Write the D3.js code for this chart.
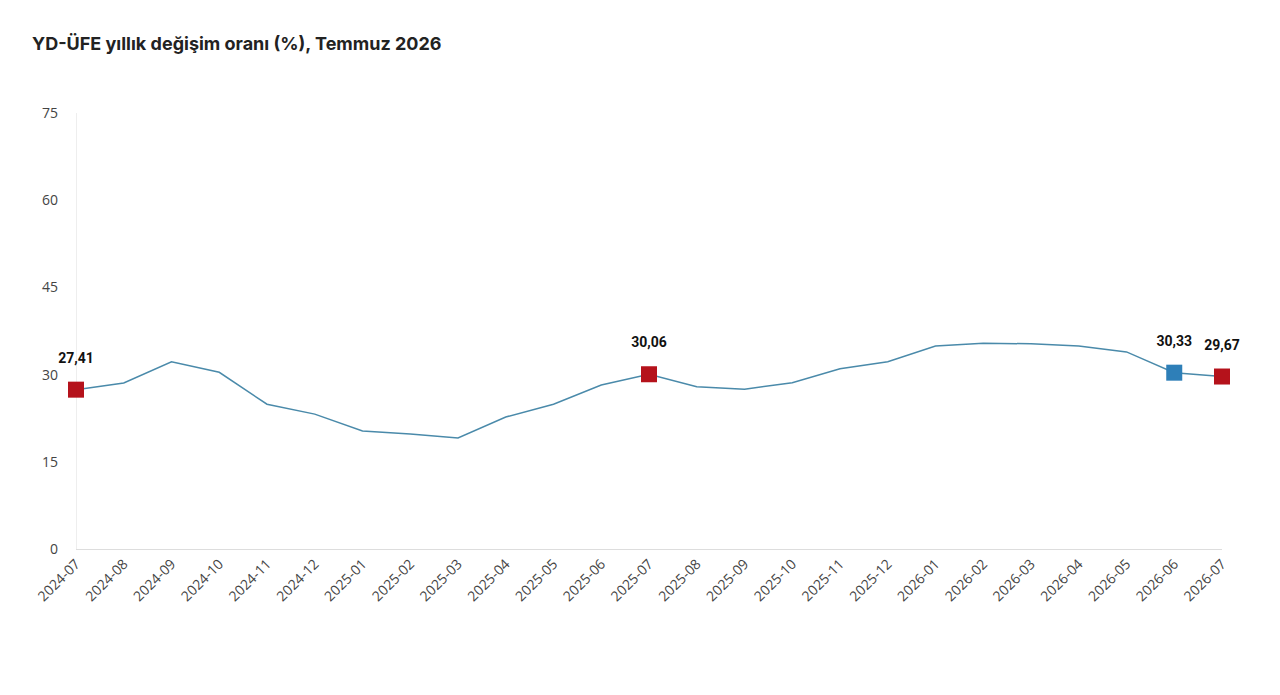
<!DOCTYPE html>
<html><head><meta charset="utf-8">
<script src="https://cdn.jsdelivr.net/npm/d3@7"></script>
<style>body{margin:0;background:#fff;font-family:"Open Sans",sans-serif}</style>
</head><body><svg id="c" width="1280" height="695"></svg>
<script>
const months=["2024-07","2024-08","2024-09","2024-10","2024-11","2024-12","2025-01","2025-02","2025-03","2025-04","2025-05","2025-06","2025-07","2025-08","2025-09","2025-10","2025-11","2025-12","2026-01","2026-02","2026-03","2026-04","2026-05","2026-06","2026-07"];
const values=[27.41,28.56,32.2,30.4,24.9,23.2,20.3,19.8,19.1,22.7,24.9,28.2,30.06,27.9,27.5,28.6,31.0,32.2,34.9,35.4,35.3,34.9,33.9,30.33,29.67];
const yTicks=[0,15,30,45,60,75];
const markers=[{m:"2024-07",label:"27,41",c:"#b5121b"},{m:"2025-07",label:"30,06",c:"#b5121b"},{m:"2026-06",label:"30,33",c:"#2e7fb8"},{m:"2026-07",label:"29,67",c:"#b5121b"}];
const svg=d3.select("#c");
svg.append("text").attr("x",32).attr("y",50).attr("font-size",18).attr("font-weight","bold").attr("fill","#222").attr("font-family","Inter, sans-serif").text("YD-ÜFE yıllık değişim oranı (%), Temmuz 2026");
const x=d3.scalePoint().domain(months).range([76,1222]);
const y=d3.scaleLinear().domain([0,75]).range([549,113]);
svg.append("line").attr("x1",76).attr("x2",1222).attr("y1",549.5).attr("y2",549.5).attr("stroke","#ddd");
svg.append("line").attr("x1",76.5).attr("x2",76.5).attr("y1",113).attr("y2",549).attr("stroke","#eee");
svg.selectAll(".yt").data(yTicks).join("text").attr("x",58).attr("y",d=>y(d)+5).attr("text-anchor","end").attr("font-size",14).attr("fill","#444").text(d=>d);
svg.selectAll(".xt").data(months).join("text").attr("transform",d=>`translate(${x(d)+5},${565}) rotate(-45)`).attr("text-anchor","end").attr("font-size",14).attr("fill","#444").text(d=>d);
svg.append("path").datum(values).attr("fill","none").attr("stroke","#4a8aaa").attr("stroke-width",1.5)
 .attr("d",d3.line().x((d,i)=>x(months[i])).y(d=>y(d)));
markers.forEach(k=>{const v=values[months.indexOf(k.m)];
 svg.append("rect").attr("x",x(k.m)-8).attr("y",y(v)-8).attr("width",16).attr("height",16).attr("fill",k.c);
 svg.append("text").attr("x",x(k.m)).attr("y",y(v)-27).attr("text-anchor","middle").attr("font-size",14).attr("font-weight","bold").attr("fill","#111").attr("font-family","Roboto, sans-serif").text(k.label);});
</script></body></html>
